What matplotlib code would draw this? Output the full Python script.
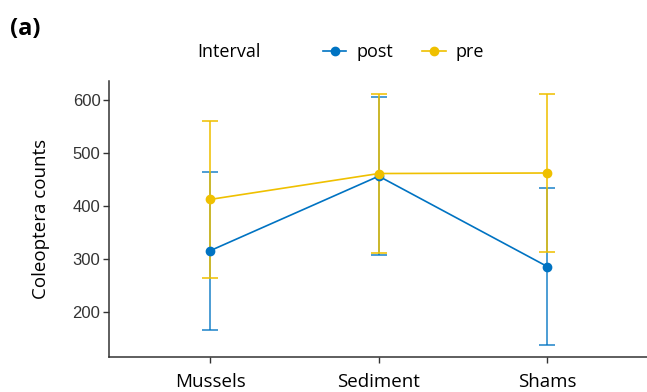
import matplotlib
matplotlib.use("Agg")
import matplotlib.pyplot as plt
from matplotlib.lines import Line2D
import numpy as np

categories = ["Mussels", "Sediment", "Shams"]
post_mean = [315, 456, 285]
post_err = [149, 149, 148]
pre_mean = [412, 461, 462]
pre_err = [149, 150, 150]
yticks = [200, 300, 400, 500, 600]

BLUE = "#0073C2"
YELLOW = "#EFC000"
TXT = "Open Sans"

W, H = 647, 392
fig = plt.figure(figsize=(W / 100, H / 100), dpi=100)
ax = fig.add_axes([108.8 / W, 1 - 357.3 / H, (W - 108.8) / W, (357.3 - 81) / H])

x = np.arange(1, len(categories) + 1)
for mean, err, col, a in [(post_mean, post_err, BLUE, 0.7), (pre_mean, pre_err, YELLOW, 0.8)]:
    ax.errorbar(x, mean, yerr=err, fmt="none", ecolor=col, elinewidth=1.4,
                capsize=6, capthick=1.4, alpha=a, zorder=2)
    ax.plot(x, mean, color=col, lw=1.2, marker="o", markersize=6, zorder=3)

ax.set_xlim(0.4, 3.6 - 0.01)
ax.set_ylim(113.6, 635.9)
ax.set_xticks(x)
ax.set_xticklabels(categories, fontfamily=TXT, fontsize=13.5, color="black")
ax.set_yticks(yticks)
ax.set_yticklabels([str(v) for v in yticks], fontfamily="Liberation Sans", fontsize=12, color="#333333")
ax.set_ylabel("Coleoptera counts", fontfamily=TXT, fontsize=13.5, labelpad=16)
for s in ["top", "right"]:
    ax.spines[s].set_visible(False)
for s in ["left", "bottom"]:
    ax.spines[s].set_color("#333333")
    ax.spines[s].set_linewidth(1.1)
ax.tick_params(axis="both", length=4, width=1.0, color="#333333")
ax.tick_params(axis="x", pad=7)
ax.tick_params(axis="y", pad=2)

fig.text(10 / W, 1 - 29 / H, "(a)", fontfamily=TXT, fontweight="bold", fontsize=17, va="center", ha="left")
fig.text(197 / W, 1 - 52 / H, "Interval", fontfamily=TXT, fontsize=13, va="center", ha="left")

handles = [Line2D([], [], color=BLUE, lw=1.2, marker="o", markersize=6),
           Line2D([], [], color=YELLOW, lw=1.2, marker="o", markersize=6)]
leg = fig.legend(handles, ["post", "pre"], ncol=2, frameon=False,
                 loc="center left", bbox_to_anchor=(323 / W, 1 - 52 / H),
                 prop={"family": TXT, "size": 13}, handlelength=1.3,
                 handletextpad=0.55, columnspacing=1.6, borderaxespad=0, borderpad=0)

fig.savefig("out.png", dpi=100)
